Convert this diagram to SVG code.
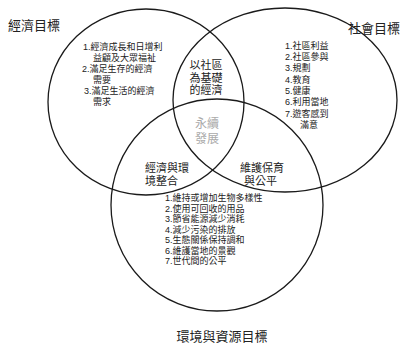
<svg xmlns="http://www.w3.org/2000/svg" width="405" height="349" viewBox="0 0 405 349">
<style>
.ring{fill:none;stroke:#1a1a1a;stroke-width:1.3}
text{font-family:"Liberation Sans","Noto Sans CJK TC","Noto Sans CJK SC",sans-serif;fill:#222}
.title{font-size:13px}
.item{font-size:9px}
.ov{font-size:11px}
.core{font-size:12px;fill:#aaa;text-anchor:middle}
</style>
<rect width="405" height="349" fill="#fff"/>
<g id="economic">
<ellipse class="ring" cx="146" cy="102" rx="98" ry="93"/>
<text class="title" x="8" y="30">經濟目標</text>
<text class="item" x="83" y="49.5">1.經濟成長和日增利</text>
<text class="item" x="93" y="60.5">益顧及大眾福祉</text>
<text class="item" x="82" y="71.5">2.滿足生存的經濟</text>
<text class="item" x="93" y="82.5">需要</text>
<text class="item" x="84" y="93.5">3.滿足生活的經濟</text>
<text class="item" x="93" y="104.5">需求</text>
</g>
<g id="social">
<ellipse class="ring" cx="285" cy="100" rx="112" ry="92"/>
<text class="title" x="348" y="33">社會目標</text>
<text class="item" x="285" y="48.5">1.社區利益</text>
<text class="item" x="285" y="59.5">2.社區參與</text>
<text class="item" x="285" y="71">3.規劃</text>
<text class="item" x="285" y="82.5">4.教育</text>
<text class="item" x="285" y="93.5">5.健康</text>
<text class="item" x="285" y="105">6.利用當地</text>
<text class="item" x="285" y="116.5">7.遊客感到</text>
<text class="item" x="300" y="128">滿意</text>
</g>
<g id="environment">
<ellipse class="ring" cx="217" cy="205" rx="106" ry="106"/>
<text class="title" x="222" y="341" text-anchor="middle">環境與資源目標</text>
<text class="item" x="165" y="200.5">1.維持或增加生物多樣性</text>
<text class="item" x="165" y="211.5">2.使用可回收的用品</text>
<text class="item" x="165" y="222">3.節省能源減少消耗</text>
<text class="item" x="165" y="232.5">4.減少污染的排放</text>
<text class="item" x="165" y="243">5.生態關係保持調和</text>
<text class="item" x="165" y="253.5">6.維護當地的景觀</text>
<text class="item" x="165" y="264">7.世代間的公平</text>
</g>
<g id="econ-social">
<text class="ov" x="206" y="69" text-anchor="middle">以社區</text>
<text class="ov" x="206" y="81.5" text-anchor="middle">為基礎</text>
<text class="ov" x="206" y="94" text-anchor="middle">的經濟</text>
</g>
<g id="econ-env">
<text class="ov" x="145" y="172">經濟與環</text>
<text class="ov" x="145" y="185">境整合</text>
</g>
<g id="social-env">
<text class="ov" x="240" y="172">維護保育</text>
<text class="ov" x="244" y="185">與公平</text>
</g>
<g id="center">
<text class="core" x="207" y="128">永續</text>
<text class="core" x="207" y="143">發展</text>
</g>
<g id="connectors"></g>
</svg>
